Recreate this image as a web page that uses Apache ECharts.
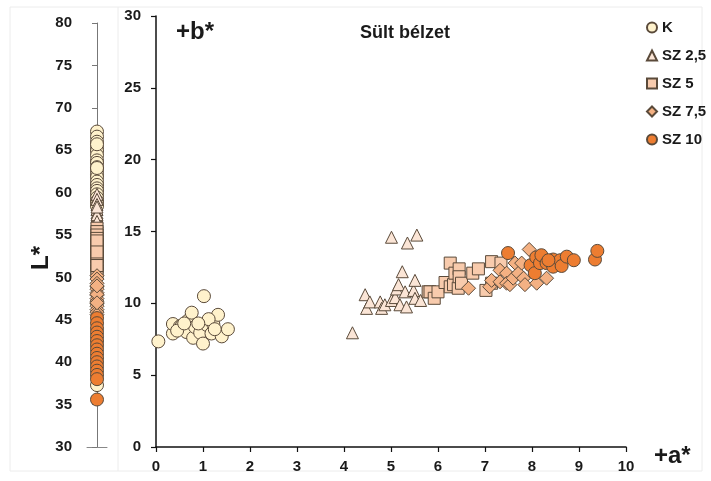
<!DOCTYPE html>
<html>
<head>
<meta charset="utf-8">
<script src="https://cdn.jsdelivr.net/npm/echarts@6/dist/echarts.min.js"></script>
<style>
  html, body { margin: 0; padding: 0; background: #fff; }
  #chart { width: 711px; height: 481px; }
</style>
</head>
<body>
<div id="chart"></div>
<script>
// Get dom in html
let color_chart_dom = document.getElementById("chart");
let color_chart = echarts.init(color_chart_dom);
//----------------------Data----------------------
let series_names = ["K", "SZ 2,5", "SZ 5", "SZ 7,5", "SZ 10"];
let x_ticks = [0, 1, 2, 3, 4, 5, 6, 7, 8, 9, 10];
// [a*, b*] pairs
let k_ab = [
    [0.05, 7.35], [0.36, 7.9], [0.36, 8.56], [0.51, 8.4], [0.55, 8.45], [0.65, 8.0],
    [0.68, 8.8], [0.76, 9.35], [0.79, 7.6], [0.83, 8.35], [0.94, 7.95], [1.0, 7.2],
    [1.02, 10.5], [1.08, 8.5], [1.18, 7.9], [1.22, 8.55], [1.32, 9.2], [1.4, 7.7],
    [1.53, 8.2], [0.45, 8.1], [1.12, 8.9], [0.9, 8.6], [1.25, 8.2], [0.6, 8.6]
];
let sz25_ab = [
    [4.18, 7.95], [4.45, 10.6], [4.48, 9.65], [4.55, 10.1], [4.77, 10.1], [4.8, 9.65],
    [4.87, 9.9], [5.01, 10.2], [5.01, 14.6], [5.09, 10.4], [5.12, 11.0], [5.16, 11.3],
    [5.19, 9.9], [5.24, 12.2], [5.3, 10.8], [5.33, 9.75], [5.35, 14.2], [5.48, 10.9],
    [5.51, 11.6], [5.51, 10.35], [5.55, 14.75], [5.63, 10.2]
];
let sz5_ab = [
    [5.79, 10.8], [5.83, 10.8], [5.92, 10.35], [6.0, 10.8], [6.15, 11.45], [6.26, 12.8],
    [6.26, 11.15], [6.33, 11.3], [6.36, 12.1], [6.43, 11.05], [6.45, 12.4], [6.45, 11.85],
    [6.5, 11.4], [6.74, 12.1], [6.86, 12.4], [7.02, 10.9], [7.14, 12.9], [7.14, 11.4],
    [7.34, 12.8]
];
let sz75_ab = [
    [6.65, 11.05], [7.1, 11.15], [7.14, 11.6], [7.32, 12.3], [7.32, 11.5], [7.46, 12.1],
    [7.46, 11.4], [7.53, 11.3], [7.6, 11.75], [7.64, 12.8], [7.71, 12.1], [7.78, 12.8],
    [7.82, 11.75], [7.85, 11.3], [7.94, 13.75], [8.1, 11.4], [8.31, 11.75]
];
let sz10_ab = [
    [7.49, 13.5], [7.97, 12.65], [8.06, 12.1], [8.09, 13.2], [8.17, 12.8], [8.2, 13.35],
    [8.31, 12.8], [8.45, 13.05], [8.45, 12.55], [8.6, 13.0], [8.63, 12.6], [8.74, 13.25],
    [8.89, 13.0], [9.34, 13.05], [9.39, 13.65], [8.35, 13.0]
];
// L* values
let k_L = [67.2, 66.6, 66.0, 65.3, 64.9, 64.4, 63.8, 63.5, 63.0, 62.6, 62.1, 61.8,
    61.3, 60.9, 60.5, 60.2, 59.8, 59.4, 59.0, 58.7, 58.4, 65.7, 62.9, 37.3];
let sz25_L = [59.8, 59.2, 58.6, 58.0, 57.6, 57.2, 57.0, 56.8, 56.5, 56.3, 56.0, 55.8,
    55.5, 55.2, 54.9, 54.6, 54.4, 54.2, 57.4, 56.6, 55.0, 58.3];
let sz5_L = [55.8, 55.4, 55.0, 54.6, 54.0, 53.6, 53.2, 52.8, 52.4, 52.0, 51.6, 51.2,
    50.8, 50.5, 53.9, 52.6, 51.4, 54.3, 53.0];
let sz75_L = [50.2, 49.8, 49.3, 48.9, 48.6, 48.2, 47.9, 47.5, 47.2, 46.9, 46.6, 46.2,
    45.9, 45.6, 48.0, 47.0, 49.0];
let sz10_L = [45.2, 44.6, 44.0, 43.5, 43.0, 42.5, 42.0, 41.5, 41.0, 40.5, 40.0, 39.5,
    39.0, 38.5, 38.0, 35.6];
//--------------------Style--------------------
let font_family = "'Liberation Sans', Arial, sans-serif";
let text_color = "#1a1a1a";
let border_color = "#5a4a3a";
let series_style = [
    {symbol: "circle", size: 13, color: "#FFF2CC"},
    {symbol: "triangle", size: 12, color: "#FBE5D6"},
    {symbol: "rect", size: 12, color: "#F8CBAD"},
    {symbol: "diamond", size: 14, color: "#F4B183"},
    {symbol: "circle", size: 13, color: "#ED7D31"},
];
let ab_list = [k_ab, sz25_ab, sz5_ab, sz75_ab, sz10_ab];
let L_list = [k_L, sz25_L, sz5_L, sz75_L, sz10_L];
//----------------------Grid----------------------
let chart_grid = [
    {left: 156, top: 16, width: 470, height: 431},   // a*-b*
    {left: 87, top: 23, width: 20, height: 424},     // L* strip
];
//----------------------Axis----------------------
let axis_label = {color: text_color, fontSize: 15, fontWeight: "bold", fontFamily: font_family};
let chart_xAxis = [
    {
        gridIndex: 0, type: "value", min: 0, max: 10, interval: 1,
        axisLine: {show: true, onZero: false, lineStyle: {color: "#111", width: 1.5}},
        axisTick: {show: true, length: 5, lineStyle: {color: "#111", width: 1.2}},
        axisLabel: Object.assign({margin: 12}, axis_label),
        splitLine: {show: false},
    },
    {
        gridIndex: 1, type: "value", min: -1, max: 1,
        axisLine: {show: true, onZero: false, lineStyle: {color: "#888", width: 1}},
        axisTick: {show: false}, axisLabel: {show: false}, splitLine: {show: false},
    },
];
let chart_yAxis = [
    {
        gridIndex: 0, type: "value", min: 0, max: 30, interval: 5,
        axisLine: {show: true, onZero: false, lineStyle: {color: "#111", width: 1.5}},
        axisTick: {show: true, length: 5, lineStyle: {color: "#111", width: 1.2}},
        axisLabel: Object.assign({margin: 15}, axis_label),
        splitLine: {show: false},
    },
    {
        gridIndex: 1, type: "value", min: 30, max: 80, interval: 5, offset: -10,
        axisLine: {show: true, onZero: false, lineStyle: {color: "#777", width: 1}},
        axisTick: {show: true, length: 5, lineStyle: {color: "#777", width: 1}},
        axisLabel: Object.assign({margin: 25}, axis_label),
        splitLine: {show: false},
    },
];
//---------------------Series---------------------
let chart_series = [];
function to_series_list(in_list) {
    for (let i = 0; i < series_names.length; i++) {
        let st = series_style[i];
        let item_style = {color: st.color, borderColor: border_color, borderWidth: 1, opacity: 1};
        in_list.push({
            name: series_names[i], type: "scatter", xAxisIndex: 0, yAxisIndex: 0,
            symbol: st.symbol, symbolSize: st.size, itemStyle: item_style,
            data: ab_list[i],
        });
        in_list.push({
            name: series_names[i], type: "scatter", xAxisIndex: 1, yAxisIndex: 1,
            symbol: st.symbol, symbolSize: st.size, itemStyle: item_style,
            data: L_list[i].map(function (v) { return [0, v]; }),
        });
    }
    return in_list;
}
chart_series = to_series_list(chart_series);
//------------------Generate Graph------------------
let title_style = {fill: text_color, fontWeight: "bold", fontFamily: font_family};
let chart_option = {
    backgroundColor: "#fff",
    animation: false,
    grid: chart_grid,
    xAxis: chart_xAxis,
    yAxis: chart_yAxis,
    series: chart_series,
    legend: {
        orient: "vertical", left: 641, top: 15,
        itemWidth: 10, itemHeight: 10, itemGap: 13,
        data: series_names,
        textStyle: {color: text_color, fontSize: 15, fontWeight: "bold", fontFamily: font_family},
    },
    graphic: [
        {type: "rect", shape: {x: 10, y: 7, width: 692, height: 464},
         style: {fill: "none", stroke: "#ececec", lineWidth: 1}, silent: true, z: -1},
        {type: "line", shape: {x1: 118, y1: 7, x2: 118, y2: 471},
         style: {stroke: "#ececec", lineWidth: 1}, silent: true, z: -1},
        {type: "text", left: 176, top: 20, style: Object.assign({text: "+b*", fontSize: 24}, title_style)},
        {type: "text", left: 360, top: 24, style: Object.assign({text: "Sült bélzet", fontSize: 18}, title_style)},
        {type: "text", left: 654, top: 444, style: Object.assign({text: "+a*", fontSize: 24}, title_style)},
        {type: "text", x: 41, y: 258, rotation: Math.PI / 2,
         style: Object.assign({text: "L*", fontSize: 24, align: "center", verticalAlign: "middle"}, title_style)},
    ],
};
if (chart_option && typeof chart_option === "object") {
    color_chart.setOption(chart_option, true);
}
</script>
</body>
</html>
